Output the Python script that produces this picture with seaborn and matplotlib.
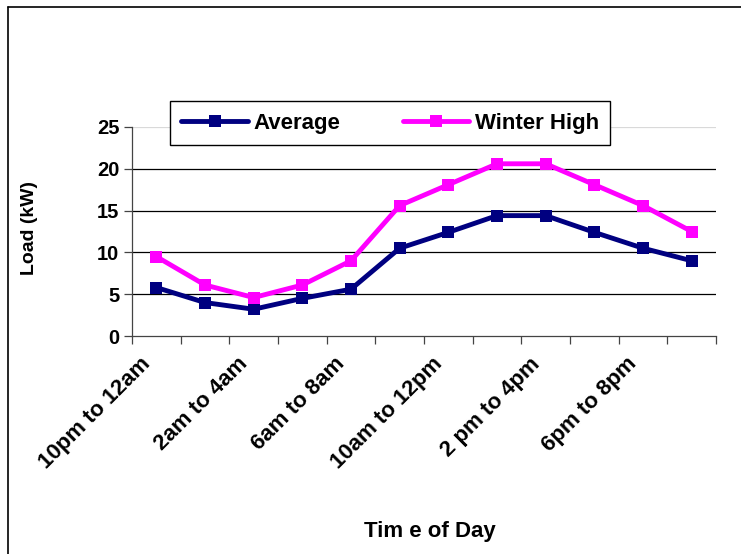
import matplotlib
matplotlib.use("Agg")
import matplotlib.pyplot as plt
import matplotlib.transforms as mtransforms
from matplotlib.lines import Line2D
import seaborn as sns
import pandas as pd

# two-hour time slots
slots = ["10pm to 12am", "12am to 2am", "2am to 4am", "4am to 6am",
         "6am to 8am", "8am to 10am", "10am to 12pm", "12pm to 2pm",
         "2 pm to 4pm", "4pm to 6pm", "6pm to 8pm", "8pm to 10pm"]
average = [5.8, 4.0, 3.2, 4.5, 5.6, 10.5, 12.4, 14.4, 14.4, 12.4, 10.5, 9.0]
winter_high = [9.5, 6.1, 4.6, 6.1, 9.0, 15.6, 18.1, 20.6, 20.6, 18.1, 15.6, 12.5]
y_ticks = [0, 5, 10, 15, 20, 25]

df = pd.DataFrame({
    "slot": slots * 2,
    "load": average + winter_high,
    "series": ["Average"] * len(slots) + ["Winter High"] * len(slots),
})

sns.set_style("white")
plt.rcParams["font.family"] = ["Liberation Sans", "DejaVu Sans"]
plt.rcParams["font.weight"] = "bold"
plt.rcParams["text.color"] = "black"
plt.rcParams["xtick.labelcolor"] = "black"
plt.rcParams["ytick.labelcolor"] = "black"

fig = plt.figure(figsize=(7.41, 5.54), dpi=100)
ax = fig.add_axes([132 / 741, 1 - 336 / 554, 584 / 741, 209 / 554])

sns.lineplot(data=df, x="slot", y="load", hue="series", style="series",
             palette={"Average": "#000080", "Winter High": "#FF00FF"},
             markers={"Average": "s", "Winter High": "s"}, dashes=False,
             markersize=9, markeredgewidth=0, linewidth=3.5, sort=False, ax=ax)

ax.set_xlim(-0.5, len(slots) - 0.5)
ax.set_ylim(0, 25)

# gridlines
for v in y_ticks[1:-1]:
    ax.axhline(v, color="black", linewidth=0.9, zorder=0)
ax.axhline(y_ticks[-1], color="#d9d9d9", linewidth=0.9, zorder=0)

ax.set_yticks(y_ticks)
ax.set_yticklabels([str(v) for v in y_ticks], fontsize=14.5, fontweight="bold")
ax.set_xticks([i - 0.5 for i in range(len(slots) + 1)])
ax.set_xticklabels([])
ax.set_xticks(list(range(0, len(slots), 2)), minor=True)
ax.set_xticklabels(slots[::2], minor=True, rotation=45, ha="right",
                   va="center", rotation_mode="anchor",
                   fontsize=16, fontweight="bold")
ax.tick_params(axis="both", which="major", direction="out", length=6,
               width=0.9, color="#444444", pad=3, left=True, bottom=True)
ax.tick_params(axis="x", which="minor", length=0, pad=18)

# nudge rotated labels a little to the left
shift = mtransforms.ScaledTranslation(-9 / 100, 0, fig.dpi_scale_trans)
for lab in ax.get_xticklabels(minor=True):
    lab.set_transform(lab.get_transform() + shift)

for s in ["top", "right"]:
    ax.spines[s].set_visible(False)
for s in ["left", "bottom"]:
    ax.spines[s].set_color("#444444")
    ax.spines[s].set_linewidth(0.9)

ax.set_xlabel("")
ax.set_ylabel("")
fig.text(430 / 741, 1 - 532 / 554, "Tim e of Day", ha="center", va="center",
         fontsize=16, fontweight="bold")
fig.text(29 / 741, 1 - 228 / 554, "Load (kW)", ha="center", va="center",
         rotation=90, fontsize=14, fontweight="bold")

handles, labels = ax.get_legend_handles_labels()
leg = ax.legend(handles, labels, loc="center", bbox_to_anchor=(0.442, 1.019),
                ncol=2, frameon=True, fancybox=False, edgecolor="black",
                framealpha=1, prop={"size": 16, "weight": "bold"},
                handlelength=3.0, columnspacing=2.8, handletextpad=0.25,
                borderpad=0.5, borderaxespad=0)
leg.get_frame().set_linewidth(1.0)

# outer frame (top and left edges)
fig.add_artist(Line2D([8 / 741, 1], [1 - 7 / 554, 1 - 7 / 554],
                      color="black", linewidth=1.2, transform=fig.transFigure))
fig.add_artist(Line2D([8 / 741, 8 / 741], [0, 1 - 7 / 554],
                      color="black", linewidth=1.2, transform=fig.transFigure))

fig.savefig("out.png", dpi=100)
